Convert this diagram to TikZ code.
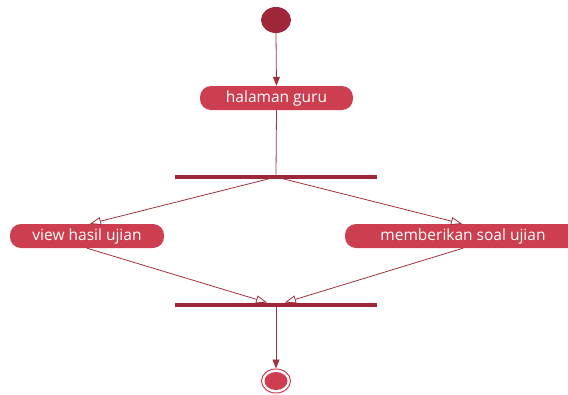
\documentclass[tikz,border=0pt]{standalone}
\usepackage{fontspec}
\setmainfont{Open Sans}
\usetikzlibrary{arrows.meta,calc,shapes.geometric}
\definecolor{darkred}{HTML}{9E2638}
\definecolor{boxred}{HTML}{CD3F50}
\definecolor{linered}{HTML}{A3303F}
\tikzset{
  act/.style={rounded corners=11pt, fill=boxred, text=white, minimum height=24pt, inner sep=0pt, font=\fontsize{15.5}{17}\selectfont},
  bar/.style={fill=darkred, minimum width=202pt, minimum height=4.5pt, inner sep=0pt},
  flow/.style={draw=linered, line width=0.8pt, -{Triangle[length=9pt,width=7pt]}},
  oflow/.style={draw=linered, line width=0.8pt, -{Triangle[open,length=11pt,width=8pt,line width=0.8pt]}},
}
\begin{document}
\begin{tikzpicture}[x=1pt,y=-1pt]
\useasboundingbox (0,0) rectangle (568,394);
\clip (0,0) rectangle (568,394);
\node[ellipse, fill=darkred, minimum width=30pt, minimum height=26pt, inner sep=0pt] (start) at (276,20) {};
\node[act, minimum width=153pt] (guru) at (276.5,98) {halaman guru};
\node[bar] (fork) at (276,177) {};
\node[act, minimum width=154pt] (view) at (87,236) {view hasil ujian};
\node[act, minimum width=236pt] (soal) at (463,236) {memberikan soal ujian};
\node[bar] (join) at (276,305) {};
\node[ellipse, draw=boxred, line width=1pt, minimum width=29pt, minimum height=24pt, inner sep=0pt] (end) at (276,381) {};
\node[ellipse, fill=boxred, minimum width=23pt, minimum height=18pt, inner sep=0pt] (endin) at (276,381) {};
\draw[flow] (start.south) -- (guru.north);
\draw[draw=linered, line width=0.8pt] (guru.south) -- (fork.north);
\draw[oflow] (fork.center) -- ($(view.north)+(3,0)$);
\draw[oflow] (fork.center) -- ($(soal.north)+(-1,0)$);
\coordinate (jl) at ($(join.north)+(-9,0)$);
\coordinate (jr) at ($(join.north)+(9,0)$);
\draw[oflow] (view.south) -- (jl);
\draw[oflow] (soal.south) -- (jr);
\draw[flow] (join.south) -- (end.north);
\end{tikzpicture}
\end{document}
